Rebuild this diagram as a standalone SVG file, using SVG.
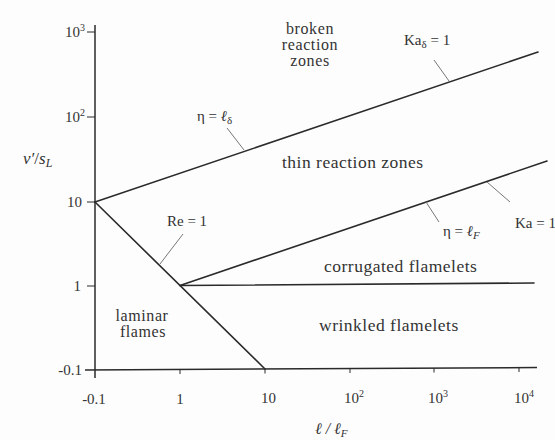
<svg xmlns="http://www.w3.org/2000/svg" width="555" height="440" viewBox="0 0 555 440" font-family="'Liberation Serif','DejaVu Serif','Times New Roman',serif">
<style>
.ax{stroke:#2a2a2a;stroke-width:1.5;fill:none}
.bd{stroke:#2a2a2a;stroke-width:1.6;fill:none;stroke-linecap:round}
.ld{stroke:#777;stroke-width:1;fill:none}
.tk{stroke:#2a2a2a;stroke-width:1;fill:none}
text{font-family:'Liberation Serif','DejaVu Serif','Times New Roman',serif;fill:#333}
.reg{font-size:17.5px;letter-spacing:0.5px}
.stk{font-size:16px;letter-spacing:0.6px}
.ann{font-size:15px}
.tl{font-size:15px}
.it{font-style:italic}
</style>
<rect width="555" height="440" fill="#fdfdfd"/>
<g id="axes">
<line class="ax" x1="95" y1="25" x2="95" y2="378"/>
<line class="ax" x1="85" y1="370" x2="537" y2="367.5"/>
<g class="tk">
<line x1="87" y1="32" x2="95" y2="32"/>
<line x1="87" y1="117" x2="95" y2="117"/>
<line x1="87" y1="202" x2="95" y2="202"/>
<line x1="87" y1="286" x2="95" y2="286"/>
<line x1="180" y1="369.5" x2="180" y2="374"/>
<line x1="265" y1="369" x2="265" y2="373.5"/>
<line x1="350" y1="368.5" x2="350" y2="373"/>
<line x1="434" y1="368" x2="434" y2="372.5"/>
<line x1="519" y1="367.6" x2="519" y2="372"/>
</g>
<g class="tl" text-anchor="end">
<text x="85" y="37">10<tspan font-size="10" dy="-6">3</tspan></text>
<text x="85" y="122">10<tspan font-size="10" dy="-6">2</tspan></text>
<text x="82" y="207">10</text>
<text x="81" y="291">1</text>
<text x="82" y="375">-0.1</text>
</g>
<g class="tl">
<text x="94" y="404" text-anchor="middle">-0.1</text>
<text x="180" y="404" text-anchor="middle">1</text>
<text x="261" y="403">10</text>
<text x="344" y="403">10<tspan font-size="10" dy="-6">2</tspan></text>
<text x="428" y="403">10<tspan font-size="10" dy="-6">3</tspan></text>
<text x="514" y="403">10<tspan font-size="10" dy="-6">4</tspan></text>
</g>
<text id="ylabel" x="23" y="164" font-size="17"><tspan class="it">v′</tspan>/<tspan class="it">s</tspan><tspan class="it" font-size="12" dy="3">L</tspan></text>
<text id="xlabel" x="315" y="434" font-size="16" class="it">ℓ / ℓ<tspan font-size="11" dy="3">F</tspan></text>
</g>
<g id="connectors">
<line class="bd" x1="95" y1="202" x2="538" y2="52"/>
<line class="bd" x1="95" y1="202" x2="265" y2="369"/>
<line class="bd" x1="180" y1="285.5" x2="547" y2="161"/>
<line class="bd" x1="180" y1="285.5" x2="534" y2="283"/>
<line class="ld" x1="434" y1="60" x2="449" y2="81"/>
<line class="ld" x1="227" y1="128" x2="244" y2="150"/>
<line class="ld" x1="183" y1="234" x2="160" y2="264"/>
<line class="ld" x1="426" y1="202" x2="439" y2="222"/>
<line class="ld" x1="487" y1="182" x2="510" y2="202"/>
</g>
<g id="broken">
<text class="stk" x="310" y="34" text-anchor="middle">broken</text>
<text class="stk" x="310" y="50" text-anchor="middle">reaction</text>
<text class="stk" x="310" y="66" text-anchor="middle">zones</text>
</g>
<g id="thin"><text class="reg" x="282" y="168">thin reaction zones</text></g>
<g id="corrugated"><text class="reg" x="324" y="272">corrugated flamelets</text></g>
<g id="wrinkled"><text class="reg" x="319" y="331">wrinkled flamelets</text></g>
<g id="laminar">
<text class="stk" x="142" y="321" text-anchor="middle">laminar</text>
<text class="stk" x="143" y="337" text-anchor="middle">flames</text>
</g>
<g id="kad"><text class="ann" x="404" y="45">Ka<tspan font-size="11" dy="3">δ</tspan><tspan dy="-3"> = 1</tspan></text></g>
<g id="etad"><text class="ann" x="197" y="121">η = <tspan class="it">ℓ</tspan><tspan font-size="11" dy="3">δ</tspan></text></g>
<g id="re"><text class="ann" x="167" y="226">Re = 1</text></g>
<g id="etaf"><text class="ann" x="443" y="236">η = <tspan class="it">ℓ</tspan><tspan class="it" font-size="11" dy="3">F</tspan></text></g>
<g id="ka"><text class="ann" x="515" y="228">Ka = 1</text></g>
</svg>
